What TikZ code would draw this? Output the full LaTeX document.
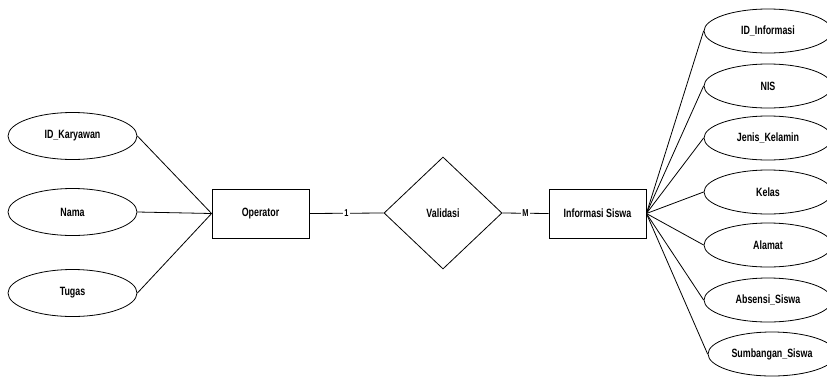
\documentclass[tikz,border=0pt]{standalone}
\usepackage{fontspec}
\setmainfont{Liberation Sans}[FakeStretch=0.74]
\usetikzlibrary{shapes.geometric}
\begin{document}
\begin{tikzpicture}[x=1pt,y=-1pt,
  every node/.style={font=\bfseries\fontsize{12}{14}\selectfont},
  attr/.style={ellipse,draw,line width=0.8pt,minimum width=129pt,minimum height=47pt,inner sep=0pt},
  attrr/.style={ellipse,draw,line width=0.8pt,minimum width=128pt,minimum height=44pt,inner sep=0pt},
  ent/.style={rectangle,draw,line width=0.8pt,minimum width=97pt,minimum height=49pt,inner sep=0pt},
  rel/.style={diamond,draw,line width=0.8pt,minimum width=118pt,minimum height=112pt,inner sep=0pt},
  link/.style={draw,line width=0.8pt},
  card/.style={fill=white,inner sep=1pt,font=\bfseries\fontsize{10}{11}\selectfont}]
\useasboundingbox (0,0) rectangle (827,378);
\clip (0,0) rectangle (827,378);

% Operator and its attributes
\node[attr] (k1) at (72.5,136) {ID\_Karyawan};
\node[attr] (k2) at (72.5,212) {Nama};
\node[attr] (k3) at (72.5,293) {Tugas};
\node[ent] (op) at (260.5,213.5) {Operator};

% relationship
\node[rel] (val) at (443,213) {Validasi};

% Informasi Siswa and its attributes
\node[ent] (inf) at (597.5,213.5) {Informasi Siswa};
\node[attrr] (i1) at (768,31) {ID\_Informasi};
\node[attrr] (i2) at (768,86) {NIS};
\node[attrr] (i3) at (768,138) {Jenis\_Kelamin};
\node[attrr] (i4) at (768,192) {Kelas};
\node[attrr] (i5) at (768,245) {Alamat};
\node[attrr] (i6) at (768,300) {Absensi\_Siswa};
\node[attrr] (i7) at (772,354) {Sumbangan\_Siswa};

% connectors
\foreach \a in {k1,k2,k3} \draw[link] (\a.east) -- (op.west);
\foreach \a in {i1,i2,i3,i4,i5,i6,i7} \draw[link] (inf.east) -- (\a.west);
\draw[link] (op.east) -- node[card] {1} (val.west);
\draw[link] (val.east) -- node[card] {M} (inf.west);
\end{tikzpicture}
\end{document}
